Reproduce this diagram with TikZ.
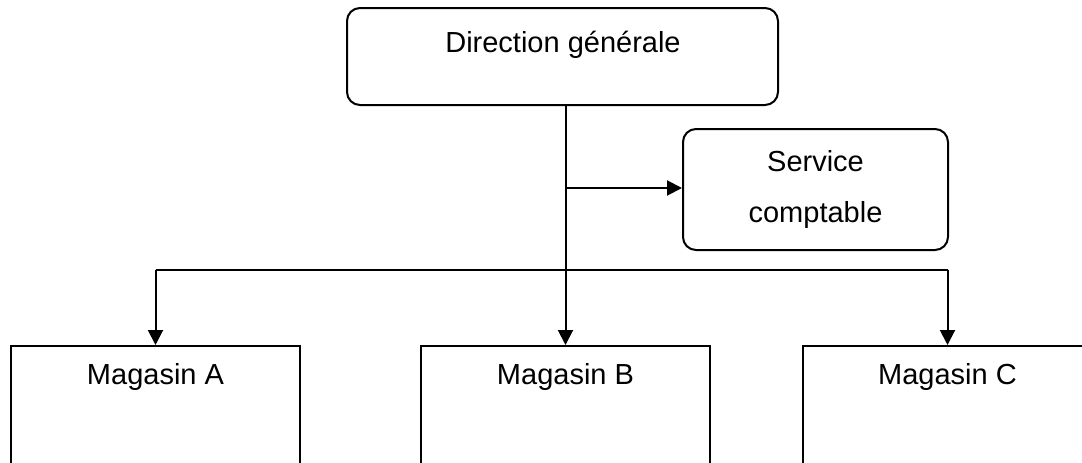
\documentclass[tikz,border=0pt]{standalone}
\usepackage{fontspec}
\setmainfont{Liberation Sans}
\usetikzlibrary{arrows.meta}

\begin{document}
\begin{tikzpicture}[
    x=1pt, y=-1pt,
    line width=2pt,
    font=\fontsize{29}{35}\selectfont,
    roundbox/.style={draw, rounded corners=13pt, inner sep=0pt},
    shopbox/.style={draw, rectangle, inner sep=0pt, minimum width=289pt, minimum height=140pt, anchor=north},
    lbl/.style={anchor=base, inner sep=0pt},
    link/.style={-{Triangle[length=15pt, width=15pt]}}
  ]
  \useasboundingbox (0,0) rectangle (1082,463);
  \clip (0,0) rectangle (1082,463);

  % head office and accounting
  \node[roundbox, minimum width=431pt, minimum height=97pt] (dg) at (562.5,56.5) {};
  \node[lbl] (dgt) at (563,52) {Direction générale};

  \node[roundbox, minimum width=265pt, minimum height=121pt] (sc) at (815.5,189.5) {};
  \node[lbl] (sct1) at (815.5,171) {Service};
  \node[lbl] (sct2) at (815.5,222) {comptable};

  % shops
  \node[shopbox] (mA) at (155.5,345) {};
  \node[lbl] (mAt) at (155.5,384) {Magasin A};
  \node[shopbox] (mB) at (565.5,345) {};
  \node[lbl] (mBt) at (565.5,384) {Magasin B};
  \node[shopbox] (mC) at (947.5,345) {};
  \node[lbl] (mCt) at (947.5,384) {Magasin C};

  % connectors
  \coordinate (jsc) at (565.5,188);
  \coordinate (bar) at (565.5,270);

  \draw[link] (dg.south -| mB.north) -- (mB.north);
  \draw[link] (jsc) -- (jsc -| sc.west);
  \draw (bar -| mA.north) -- (bar -| mC.north);
  \draw[link] (bar -| mA.north) -- (mA.north);
  \draw[link] (bar -| mC.north) -- (mC.north);
\end{tikzpicture}
\end{document}
